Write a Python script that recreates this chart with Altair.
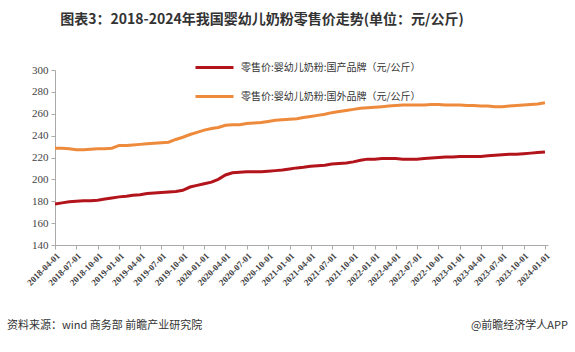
import altair as alt
import pandas as pd

# ---- data ----
months = pd.date_range("2018-04-01", periods=70, freq="MS").strftime("%Y-%m-%d").tolist()

domestic = [
    177.5, 178.5, 179.5, 180, 180.5, 180.5, 181, 182, 183,
    184, 184.5, 185.5, 186, 187, 187.5, 188, 188.5, 189, 190, 193, 194.5,
    196, 197.5, 200, 204, 206, 206.5, 207, 207, 207, 207.5, 208, 208.5,
    209.5, 210.5, 211, 212, 212.5, 213, 214, 214.5, 215, 216, 217.5, 218.5,
    218.5, 219, 219, 219, 218.5, 218.5, 218.5, 219, 219.5, 220, 220.5, 220.5,
    221, 221, 221, 221, 221.5, 222, 222.5, 223, 223, 223.5, 224, 224.5,
    225,
]
foreign = [
    228.5, 228.5, 228, 227, 227, 227.5, 228, 228, 228.5,
    231, 231, 231.5, 232, 232.5, 233, 233.5, 234, 236.5, 238.5, 241, 243,
    245, 246.5, 247.5, 249.5, 250, 250, 251, 251.5, 252, 253, 254, 254.5,
    255, 255.5, 256.5, 257.5, 258.5, 259.5, 261, 262, 263, 264, 265, 265.5,
    266, 266.5, 267, 267.5, 268, 268, 268, 268, 268.5, 268.5, 268, 268,
    268, 267.5, 267.5, 267, 267, 266.5, 266.5, 267, 267.5, 268, 268.5, 269,
    270,
]
series_names = ["零售价:婴幼儿奶粉:国产品牌（元/公斤）", "零售价:婴幼儿奶粉:国外品牌（元/公斤）"]
series_colors = ["#B3141C", "#EE8A3C"]

tick_dates = [(y, m) for y in range(2018, 2025) for m in (1, 4, 7, 10)
              if (y, m) >= (2018, 4) and (y, m) <= (2024, 1)]
y_ticks = [140, 160, 180, 200, 220, 240, 260, 280, 300]

title_text = "图表3：2018-2024年我国婴幼儿奶粉零售价走势(单位：元/公斤)"
source_text = "资料来源：wind 商务部 前瞻产业研究院"
brand_text = "@前瞻经济学人APP"

df = pd.DataFrame({
    "date": months * 2,
    "value": domestic + foreign,
    "series": [series_names[0]] * len(months) + [series_names[1]] * len(months),
})

W, H = 493, 175

lines = alt.Chart(df).mark_line(strokeWidth=3).encode(
    x=alt.X("date:T", title=None,
            scale=alt.Scale(type="utc",
                            domain=[alt.DateTime(year=2018, month=4, date=1, utc=True),
                                    alt.DateTime(year=2024, month=1, date=14, utc=True)]),
            axis=alt.Axis(values=[alt.DateTime(year=y, month=m, date=1, utc=True) for y, m in tick_dates],
                          format="%Y-%m-%d", labelAngle=-45, labelFont="Liberation Serif",
                          labelFontWeight="bold", labelFontSize=9, labelColor="#444",
                          labelOverlap=False, labelBound=False,
                          domainColor="#aaa", tickColor="#aaa", tickSize=4, grid=False,
                          labelPadding=2)),
    y=alt.Y("value:Q", title=None,
            scale=alt.Scale(domain=[140, 300], nice=False, zero=False),
            axis=alt.Axis(values=y_ticks, labelFont="Liberation Serif", labelFontSize=11,
                          labelColor="#444", domainColor="#aaa", tickColor="#aaa",
                          tickSize=4, grid=False, labelPadding=3)),
    color=alt.Color("series:N",
                    scale=alt.Scale(domain=series_names, range=series_colors),
                    legend=alt.Legend(title=None, orient="none", legendX=139, legendY=-23,
                                      symbolType="stroke", symbolSize=1444,
                                      symbolStrokeWidth=3, labelFont="Noto Sans CJK SC",
                                      labelFontSize=10, labelColor="#333", rowPadding=2,
                                      labelOffset=6, padding=0, labelLimit=400)),
)

title = alt.Chart(alt.Data(values=[{"t": title_text}])).mark_text(
    font="Noto Sans CJK SC", fontSize=14, fontWeight="bold", color="#333",
    align="center", baseline="middle"
).encode(text="t:N", x=alt.value(207), y=alt.value(-50))

source = alt.Chart(alt.Data(values=[{"t": source_text}])).mark_text(
    font="Noto Sans CJK SC", fontSize=11, color="#333", align="left", baseline="middle"
).encode(text="t:N", x=alt.value(-48), y=alt.value(256))

brand = alt.Chart(alt.Data(values=[{"t": brand_text}])).mark_text(
    font="Noto Sans CJK SC", fontSize=11, color="#333", align="right", baseline="middle"
).encode(text="t:N", x=alt.value(513), y=alt.value(256))

chart = alt.layer(lines, title, source, brand).properties(
    width=W, height=H,
    autosize=alt.AutoSizeParams(type="none"),
    padding={"left": 55, "top": 70, "right": 27, "bottom": 107},
    background="white",
).configure_view(stroke=None)

chart.save("out.html", embed_options={"renderer": "svg", "actions": False})
